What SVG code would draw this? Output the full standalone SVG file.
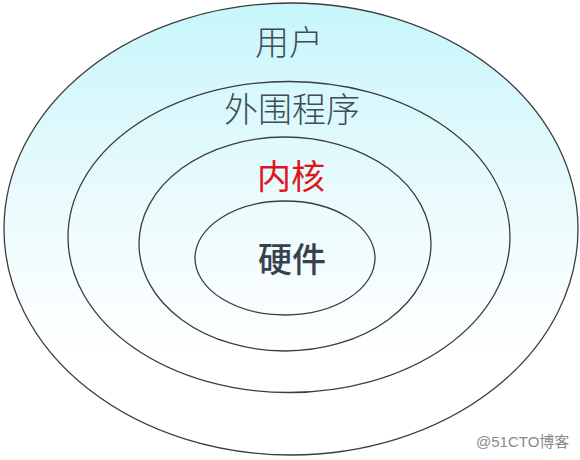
<svg xmlns="http://www.w3.org/2000/svg" width="580" height="460" viewBox="0 0 580 460">
  <defs>
    <linearGradient id="bg" gradientUnits="userSpaceOnUse" x1="0" y1="0" x2="0" y2="420">
      <stop offset="0" stop-color="#c6f6fb"/>
      <stop offset="0.5" stop-color="#ecfbfd"/>
      <stop offset="0.85" stop-color="#ffffff"/>
    </linearGradient>
  </defs>
  <style>
    .ring { fill: url(#bg); stroke: #3c3c3c; stroke-width: 1.3; }
    .lbl { font-family: "Noto Sans CJK SC", "Noto Sans", sans-serif; font-size: 34px; text-anchor: middle; fill: #3f4b56; font-weight: 300; }
    .red { fill: #e0161c; font-weight: 400; }
    .bold { font-weight: 500; fill: #36424d; }
    .wm { font-family: "Liberation Sans", "Noto Sans CJK SC", sans-serif; font-size: 15px; fill: #8a8a8a; }
  </style>
  <rect width="580" height="460" fill="#ffffff"/>
  <g id="user">
    <ellipse class="ring" cx="291" cy="229" rx="287" ry="226"/>
    <text class="lbl" x="289" y="55">用户</text>
  </g>
  <g id="shell">
    <ellipse class="ring" cx="289" cy="237" rx="221" ry="155.5"/>
    <text class="lbl" x="292" y="122">外围程序</text>
  </g>
  <g id="kernel">
    <ellipse class="ring" cx="285" cy="244" rx="146" ry="107"/>
    <text class="lbl red" x="291" y="189">内核</text>
  </g>
  <g id="hardware">
    <ellipse class="ring" cx="285" cy="258" rx="90" ry="57"/>
    <text class="lbl bold" x="292" y="272">硬件</text>
  </g>
  <g id="connectors"/>
  <text class="wm" x="476" y="447">@51CTO博客</text>
</svg>
